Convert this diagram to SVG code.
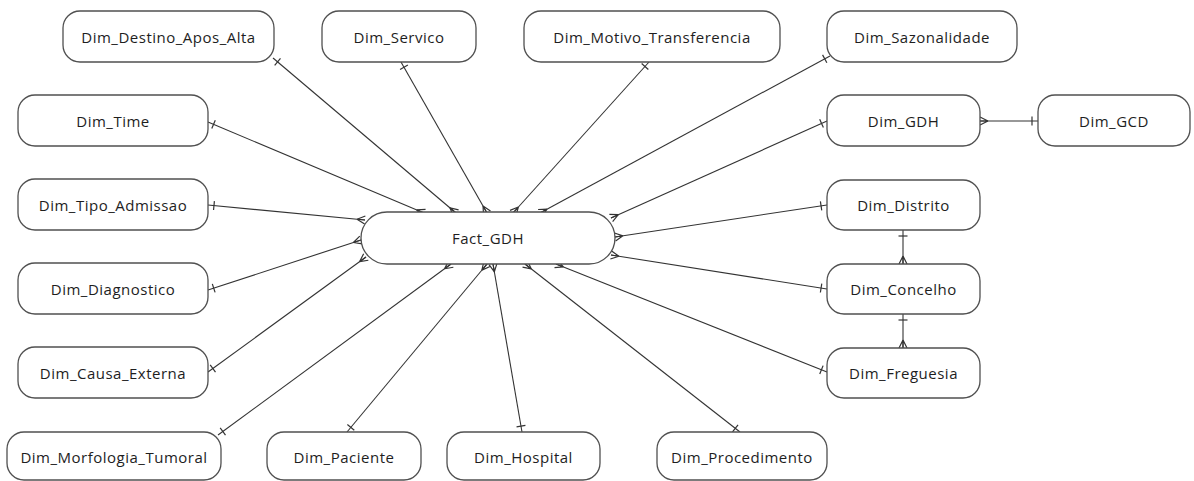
<svg xmlns="http://www.w3.org/2000/svg" width="1194" height="481" viewBox="0 0 1194 481">
  <defs>
    <style>
      .box { fill: #ffffff; stroke: #505050; stroke-width: 1.3; }
      .lbl { font-family: "Open Sans", "Noto Sans", sans-serif; font-size: 15px; letter-spacing: 0.5px; fill: #1e1e1e; text-anchor: middle; dominant-baseline: central; }
      .rel { stroke: #333333; stroke-width: 1.1; fill: none; marker-start: url(#one); marker-end: url(#many); }
    </style>
    <!-- "one" tick, placed a few pixels from the dimension side -->
    <marker id="one" viewBox="-1 -6 10 12" refX="0" refY="0" markerWidth="10" markerHeight="12" markerUnits="userSpaceOnUse" orient="auto">
      <path d="M6,-4.5 L6,4.5" stroke="#333333" stroke-width="1.2" fill="none"/>
    </marker>
    <!-- crow's foot "many" end, prongs touching the entity -->
    <marker id="many" viewBox="-1 -6 11 12" refX="8" refY="0" markerWidth="11" markerHeight="12" markerUnits="userSpaceOnUse" orient="auto">
      <path d="M0,0 L8,-4 M0,0 L8,0 M0,0 L8,4" stroke="#333333" stroke-width="1.2" fill="none"/>
    </marker>
  </defs>

  <g id="connectors">
    <line class="rel" x1="273" y1="58" x2="456" y2="213"/>
    <line class="rel" x1="401" y1="62" x2="487" y2="213"/>
    <line class="rel" x1="649" y1="62" x2="513" y2="213"/>
    <line class="rel" x1="830" y1="56" x2="540" y2="213"/>
    <line class="rel" x1="208" y1="122" x2="424" y2="213"/>
    <line class="rel" x1="208" y1="205" x2="365" y2="220"/>
    <line class="rel" x1="208" y1="290" x2="361" y2="240"/>
    <line class="rel" x1="208" y1="372" x2="366" y2="257"/>
    <line class="rel" x1="218" y1="435" x2="451" y2="264"/>
    <line class="rel" x1="347" y1="432" x2="487" y2="264"/>
    <line class="rel" x1="522" y1="432" x2="493" y2="264"/>
    <line class="rel" x1="740" y1="432" x2="525" y2="264"/>
    <line class="rel" x1="827" y1="372" x2="556" y2="264"/>
    <line class="rel" x1="827" y1="289" x2="611" y2="255"/>
    <line class="rel" x1="827" y1="205" x2="615" y2="237"/>
    <line class="rel" x1="827" y1="121" x2="611" y2="218"/>
    <line class="rel" x1="1038" y1="121" x2="980" y2="121"/>
    <line class="rel" x1="903" y1="230" x2="903" y2="264"/>
    <line class="rel" x1="903" y1="314" x2="903" y2="348"/>
  </g>

  <g id="fact-gdh">
    <rect class="box" x="361" y="212" width="254" height="52" rx="26"/>
    <text class="lbl" x="488" y="238">Fact_GDH</text>
  </g>
  <g id="dim-destino-apos-alta">
    <rect class="box" x="63" y="11" width="211" height="51" rx="17"/>
    <text class="lbl" x="168.5" y="36.5">Dim_Destino_Apos_Alta</text>
  </g>
  <g id="dim-servico">
    <rect class="box" x="322" y="11" width="154" height="51" rx="17"/>
    <text class="lbl" x="399" y="36.5">Dim_Servico</text>
  </g>
  <g id="dim-motivo-transferencia">
    <rect class="box" x="524" y="11" width="256" height="51" rx="17"/>
    <text class="lbl" x="652" y="36.5">Dim_Motivo_Transferencia</text>
  </g>
  <g id="dim-sazonalidade">
    <rect class="box" x="827" y="11" width="190" height="51" rx="17"/>
    <text class="lbl" x="922" y="36.5">Dim_Sazonalidade</text>
  </g>
  <g id="dim-time">
    <rect class="box" x="18" y="95" width="190" height="51" rx="17"/>
    <text class="lbl" x="113" y="120.5">Dim_Time</text>
  </g>
  <g id="dim-tipo-admissao">
    <rect class="box" x="18" y="179" width="190" height="51" rx="17"/>
    <text class="lbl" x="113" y="204.5">Dim_Tipo_Admissao</text>
  </g>
  <g id="dim-diagnostico">
    <rect class="box" x="18" y="263" width="190" height="51" rx="17"/>
    <text class="lbl" x="113" y="288.5">Dim_Diagnostico</text>
  </g>
  <g id="dim-causa-externa">
    <rect class="box" x="18" y="347" width="190" height="51" rx="17"/>
    <text class="lbl" x="113" y="372.5">Dim_Causa_Externa</text>
  </g>
  <g id="dim-morfologia-tumoral">
    <rect class="box" x="7" y="432" width="214" height="48" rx="17"/>
    <text class="lbl" x="114" y="457">Dim_Morfologia_Tumoral</text>
  </g>
  <g id="dim-paciente">
    <rect class="box" x="267" y="432" width="154" height="48" rx="17"/>
    <text class="lbl" x="344" y="457">Dim_Paciente</text>
  </g>
  <g id="dim-hospital">
    <rect class="box" x="447" y="432" width="153" height="48" rx="17"/>
    <text class="lbl" x="523.5" y="457">Dim_Hospital</text>
  </g>
  <g id="dim-procedimento">
    <rect class="box" x="657" y="432" width="170" height="48" rx="17"/>
    <text class="lbl" x="742" y="457">Dim_Procedimento</text>
  </g>
  <g id="dim-gdh">
    <rect class="box" x="827" y="95" width="153" height="51" rx="17"/>
    <text class="lbl" x="903.5" y="120.5">Dim_GDH</text>
  </g>
  <g id="dim-gcd">
    <rect class="box" x="1038" y="95" width="152" height="51" rx="17"/>
    <text class="lbl" x="1114" y="120.5">Dim_GCD</text>
  </g>
  <g id="dim-distrito">
    <rect class="box" x="827" y="180" width="153" height="50" rx="17"/>
    <text class="lbl" x="903.5" y="205">Dim_Distrito</text>
  </g>
  <g id="dim-concelho">
    <rect class="box" x="827" y="264" width="153" height="50" rx="17"/>
    <text class="lbl" x="903.5" y="289">Dim_Concelho</text>
  </g>
  <g id="dim-freguesia">
    <rect class="box" x="827" y="348" width="153" height="50" rx="17"/>
    <text class="lbl" x="903.5" y="373">Dim_Freguesia</text>
  </g>
</svg>
